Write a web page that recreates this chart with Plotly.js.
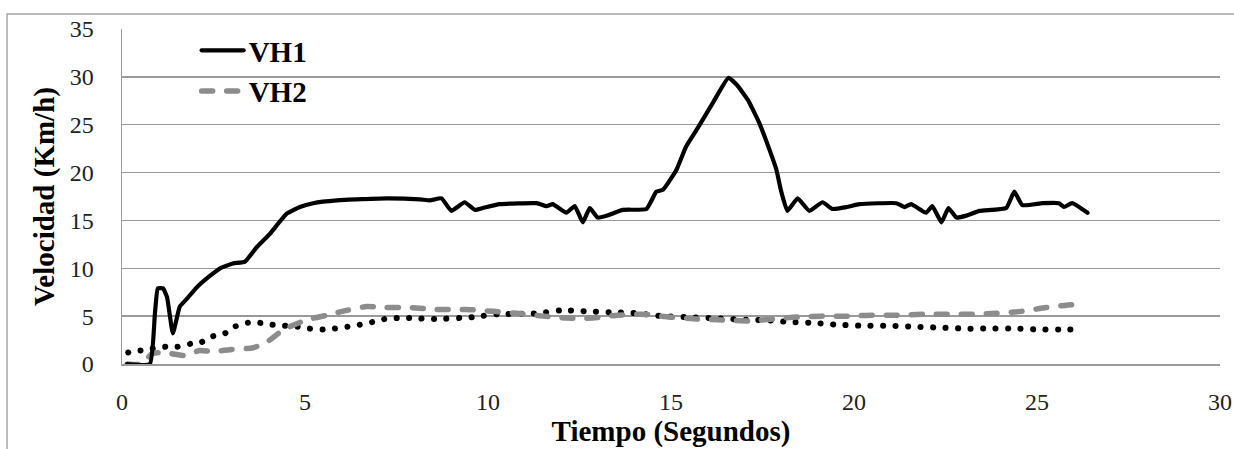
<!DOCTYPE html>
<html>
<head>
<meta charset="utf-8">
<script src="https://cdn.plot.ly/plotly-3.0.1.min.js"></script>
<style>
html,body{margin:0;padding:0;background:#fff;}
#chart{width:1234px;height:449px;}
.js-line{stroke-linecap:round;stroke-linejoin:round;}
</style>
</head>
<body>
<div id="chart"></div>
<script>
// Time (s) and speed (km/h)
const vh1Time = [0.14,0.76,0.9,0.98,1.12,1.23,1.39,1.58,1.77,2.04,2.4,2.68,3.03,3.36,3.68,4.04,4.5,4.86,5.22,5.87,7.23,8.14,8.41,8.73,9.0,9.36,9.64,9.86,10.32,11.33,11.6,11.77,12.14,12.37,12.59,12.78,13.0,13.32,13.68,14.33,14.6,14.78,15.15,15.41,15.72,16.13,16.57,16.79,17.1,17.41,17.69,17.88,18.0,18.18,18.46,18.78,19.14,19.41,19.8,20.15,21.16,21.38,21.56,21.97,22.14,22.39,22.58,22.8,23.07,23.43,24.16,24.38,24.6,25.15,25.6,25.74,25.96,26.38];
const vh1Speed = [0,0,5.3,7.9,7.9,7.0,3.2,6.0,6.8,8.0,9.2,10.0,10.5,10.7,12.2,13.6,15.7,16.4,16.8,17.1,17.3,17.2,17.1,17.3,16.0,16.9,16.1,16.3,16.7,16.8,16.5,16.7,15.8,16.5,14.8,16.3,15.3,15.6,16.1,16.2,18.0,18.2,20.3,22.7,24.6,27.2,29.9,29.2,27.6,25.2,22.4,20.3,18.2,16.0,17.3,16.0,16.9,16.2,16.4,16.7,16.8,16.4,16.7,15.8,16.5,14.8,16.3,15.3,15.5,16.0,16.3,18.0,16.6,16.8,16.8,16.4,16.8,15.8];

const vh2Time = [0.14,0.57,0.82,1.31,1.67,2.13,2.48,2.95,3.58,3.96,4.31,4.59,5.04,5.6,6.14,6.68,7.23,7.86,8.6,9.41,10.14,10.78,11.5,12.14,12.86,13.55,14.23,14.96,15.7,16.4,17.14,17.78,18.43,19.1,19.8,20.48,21.16,21.89,22.53,23.22,23.89,24.57,25.25,25.94,26.16];
const vh2Speed = [0,0,1.1,1.1,0.9,1.4,1.3,1.5,1.7,2.3,3.3,3.9,4.6,5.1,5.6,6.0,5.9,5.9,5.7,5.7,5.5,5.3,5.0,4.8,4.8,5.1,5.2,4.9,4.7,4.6,4.5,4.7,4.9,5.0,5.0,5.1,5.1,5.2,5.2,5.2,5.3,5.5,5.9,6.2,6.2];

const dotTime = [0.17,0.5,0.82,1.17,1.5,1.86,2.18,2.48,2.81,3.08,3.44,3.77,4.1,4.45,4.8,5.13,5.49,5.82,6.17,6.5,6.86,7.18,7.54,7.86,8.55,9.59,10.27,11.33,12.0,12.7,13.38,14.06,14.78,15.42,16.13,17.14,17.5,18.18,18.87,19.56,20.24,20.97,21.65,22.35,23.03,23.75,24.44,25.12,25.8,26.16];
const dotSpeed = [1.2,1.4,1.6,1.8,1.8,2.1,2.3,2.9,3.2,3.9,4.3,4.3,4.1,4.0,3.9,3.7,3.6,3.7,3.9,4.1,4.4,4.7,4.8,4.8,4.7,4.9,5.2,5.3,5.6,5.5,5.4,5.3,5.0,4.9,4.8,4.6,4.6,4.4,4.3,4.1,4.0,4.0,3.9,3.8,3.7,3.7,3.7,3.6,3.6,3.6];

const xTicks = [0,5,10,15,20,25,30];
const yTicks = [0,5,10,15,20,25,30,35];

const serif = 'Liberation Serif, Times New Roman, serif';

const traces = [
  {x: dotTime, y: dotSpeed, mode: 'lines', name: 'VH3', showlegend: false,
   line: {color: '#000', width: 6, dash: '0.1px,12.4px', shape: 'spline', smoothing: 0.6}},
  {x: vh2Time, y: vh2Speed, mode: 'lines', name: 'VH2', legendgroup: 'b', legendrank: 2,
   line: {color: '#8c8c8c', width: 5.5, dash: '11px,14px', shape: 'spline', smoothing: 0.6}},
  {x: vh1Time, y: vh1Speed, mode: 'lines', name: 'VH1', legendgroup: 'a', legendrank: 1,
   line: {color: '#000', width: 4.2, shape: 'spline', smoothing: 0.4}}
];

const layout = {
  width: 1234, height: 449,
  margin: {l: 122, r: 14, t: 29, b: 85, pad: 0},
  paper_bgcolor: '#fff', plot_bgcolor: '#fff',
  showlegend: true,
  legend: {x: 0.068, y: 1.012, xanchor: 'left', yanchor: 'top', bgcolor: 'rgba(0,0,0,0)',
           font: {family: serif, size: 29, color: '#000', weight: 'bold'},
           itemwidth: 42, tracegroupgap: 1, traceorder: 'normal'},
  xaxis: {range: [0, 30], tickvals: xTicks, ticktext: xTicks.map(String), showgrid: false,
          zeroline: false, showline: true, linecolor: '#9a9a9a', linewidth: 1.5, ticks: '',
          ticklabelstandoff: 16, tickfont: {family: serif, size: 24, color: '#222'},
          title: {text: 'Tiempo (Segundos)', standoff: 2, font: {family: serif, size: 29, color: '#000', weight: 'bold'}}},
  yaxis: {range: [0, 35], tickvals: yTicks, ticktext: yTicks.map(String), showgrid: true,
          gridcolor: '#9a9a9a', gridwidth: 1.5, zeroline: false, showline: true,
          linecolor: '#9a9a9a', linewidth: 1.5, ticks: '', ticklabelstandoff: 22,
          tickfont: {family: serif, size: 24, color: '#222'},
          title: {text: 'Velocidad (Km/h)', standoff: 6, font: {family: serif, size: 29, color: '#000', weight: 'bold'}}},
  shapes: [{type: 'rect', xref: 'paper', yref: 'paper', x0: -0.1047, x1: 1.2, y0: -0.6, y1: 1.0448,
            line: {color: '#a6a6a6', width: 1.5}, fillcolor: 'rgba(0,0,0,0)', layer: 'below'}]
};

Plotly.newPlot('chart', traces, layout, {staticPlot: true, displayModeBar: false});
</script>
</body>
</html>
